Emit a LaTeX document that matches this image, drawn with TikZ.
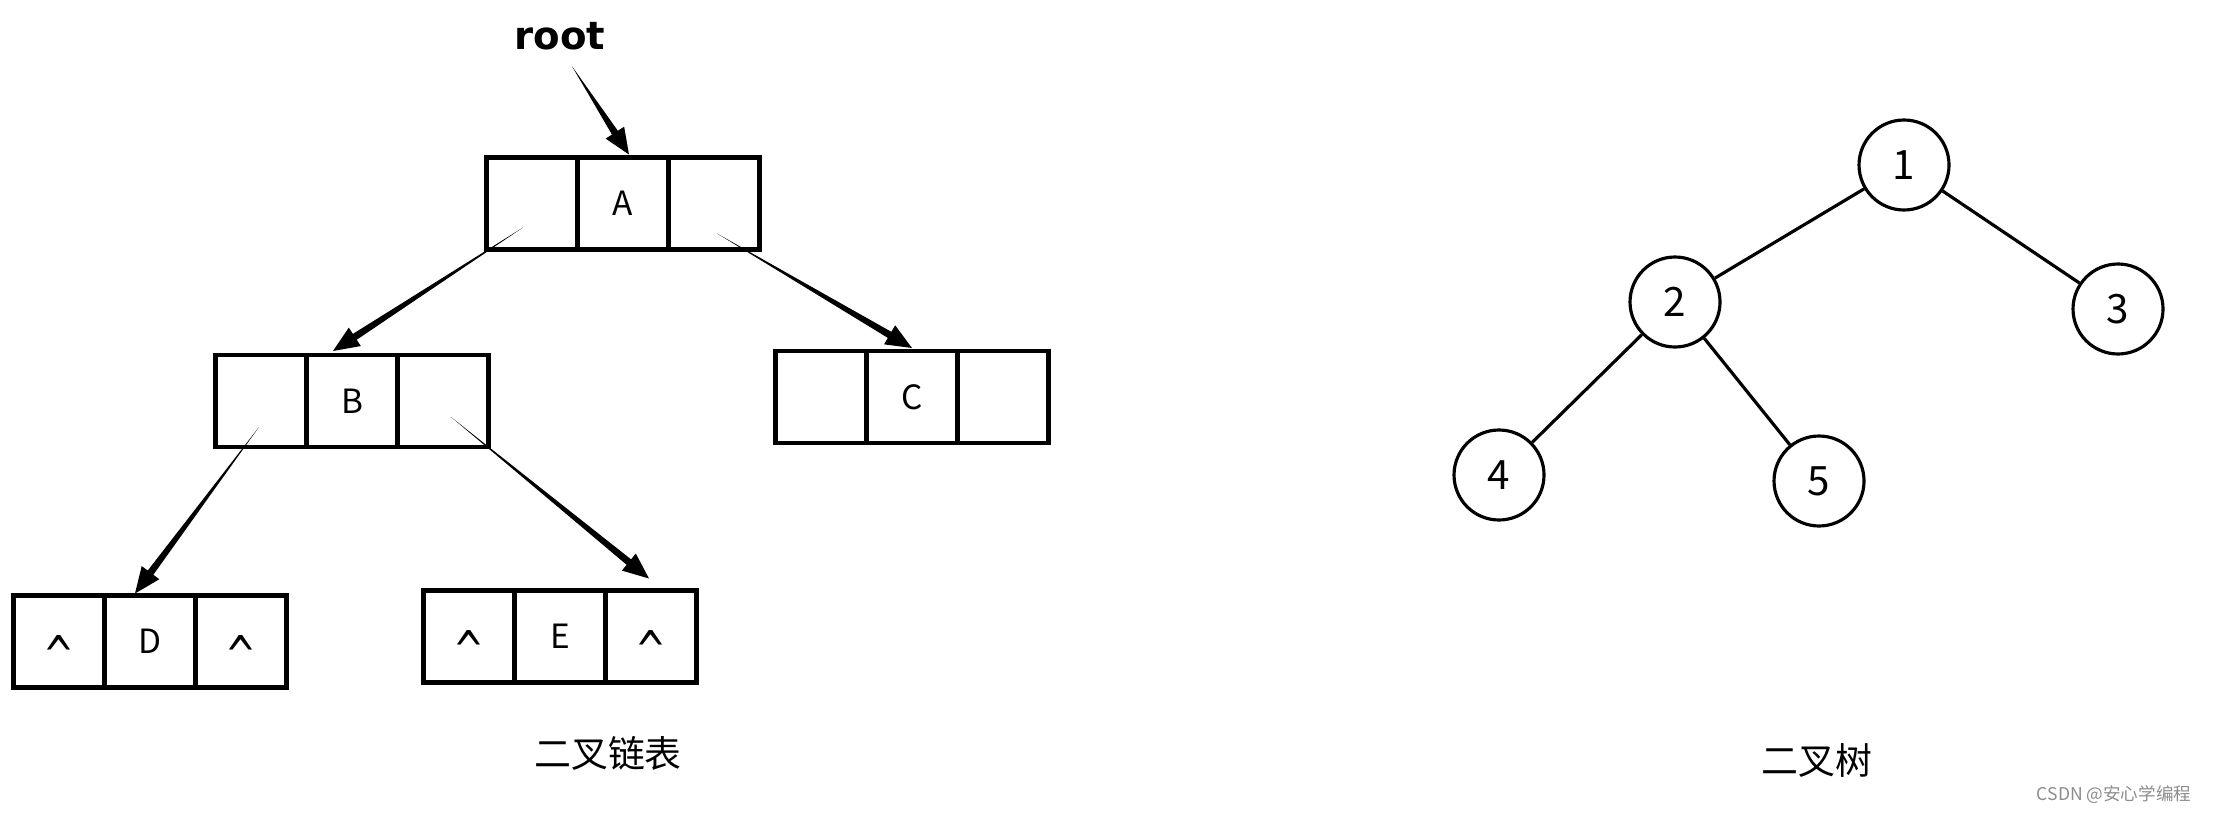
\documentclass[tikz,border=0pt]{standalone}
\usepackage{fontspec}
\usepackage{graphicx}
\setmainfont{Noto Sans CJK SC}
\newfontfamily\rootfont{DejaVu Sans}
\usetikzlibrary{positioning,calc}

\tikzset{
  cell/.style={draw,line width=1.3pt,minimum width=0.91cm,minimum height=0.92cm,
    inner sep=0pt,outer sep=0pt,font=\fontsize{9.5}{11}\selectfont},
  nilcell/.style={cell,font=\rootfont\fontsize{10.5}{12}\selectfont,
    text height=18.5pt,text depth=0pt},
  tnode/.style={circle,draw,line width=0.9pt,minimum size=0.9cm,inner sep=0pt,
    font=\fontsize{11.5}{13}\selectfont},
  edge/.style={line width=0.9pt},
  caption/.style={font=\fontsize{10.5}{12}\selectfont},
}

% empty pointer mark
\newcommand{\nil}{\scalebox{1}[1.45]{\textasciicircum}}

% pointer: thin where it starts, thick near the head
\newcommand{\pointer}[2]{%
  \coordinate (hb) at ($(#2)!0.26cm!(#1)$);
  \fill (#1) -- ($(hb)!0.035cm!90:(#2)$) -- ($(hb)!0.11cm!90:(#2)$) -- (#2)
    -- ($(hb)!0.11cm!-90:(#2)$) -- ($(hb)!0.035cm!-90:(#2)$) -- cycle;
}

\begin{document}
\begin{tikzpicture}
    \useasboundingbox (0,0) rectangle (22.15,-8.14);

    % binary linked list
    \draw (5.60,-0.36) node[font=\rootfont\bfseries\fontsize{11}{13}\selectfont] (root) {root};

    \draw (6.23,-2.035) node[cell] (aM) {A};
    \node[cell,left=0pt of aM] (aL) {};
    \node[cell,right=0pt of aM] (aR) {};

    \draw (3.52,-4.01) node[cell] (bM) {B};
    \node[cell,left=0pt of bM] (bL) {};
    \node[cell,right=0pt of bM] (bR) {};

    \draw (9.12,-3.97) node[cell] (cM) {C};
    \node[cell,left=0pt of cM] (cL) {};
    \node[cell,right=0pt of cM] (cR) {};

    \draw (1.50,-6.415) node[cell] (dM) {D};
    \node[nilcell,left=0pt of dM] (dL) {\nil};
    \node[nilcell,right=0pt of dM] (dR) {\nil};

    \draw (5.60,-6.365) node[cell] (eM) {E};
    \node[nilcell,left=0pt of eM] (eL) {\nil};
    \node[nilcell,right=0pt of eM] (eR) {\nil};

    \coordinate (rootS) at ([xshift=0.12cm,yshift=-0.04cm]root.south);
    \coordinate (rootT) at ([xshift=0.06cm,yshift=0.03cm]aM.north);
    \coordinate (abS) at ([xshift=-0.09cm,yshift=-0.24cm]aL.center);
    \coordinate (abT) at ([xshift=-0.19cm,yshift=0.04cm]bM.north);
    \coordinate (acS) at ([xshift=0.03cm,yshift=-0.30cm]aR.center);
    \coordinate (acT) at ([yshift=0.03cm]cM.north);
    \coordinate (bdS) at ([xshift=-0.02cm,yshift=-0.26cm]bL.center);
    \coordinate (bdT) at ([xshift=-0.15cm,yshift=0.02cm]dM.north);
    \coordinate (beS) at ([xshift=0.08cm,yshift=-0.16cm]bR.center);
    \coordinate (beT) at ([xshift=-0.02cm,yshift=0.12cm]eR.north);

    \pointer{rootS}{rootT}
    \pointer{abS}{abT}
    \pointer{acS}{acT}
    \pointer{bdS}{bdT}
    \pointer{beS}{beT}

    \draw (6.08,-7.53) node[caption] (listcap) {二叉链表};

    % binary tree
    \draw (19.04,-1.65) node[tnode] (n1) {1};
    \draw (16.75,-3.02) node[tnode] (n2) {2};
    \draw (21.18,-3.09) node[tnode] (n3) {3};
    \draw (14.99,-4.75) node[tnode] (n4) {4};
    \draw (18.19,-4.81) node[tnode] (n5) {5};
    \draw[edge] (n1)--(n2);
    \draw[edge] (n1)--(n3);
    \draw[edge] (n2)--(n4);
    \draw[edge] (n2)--(n5);

    \draw (18.17,-7.60) node[caption] (treecap) {二叉树};

    \draw (21.14,-7.95) node[font=\fontsize{5}{6}\selectfont,text=black!45] (mark) {CSDN @安心学编程};
\end{tikzpicture}
\end{document}
